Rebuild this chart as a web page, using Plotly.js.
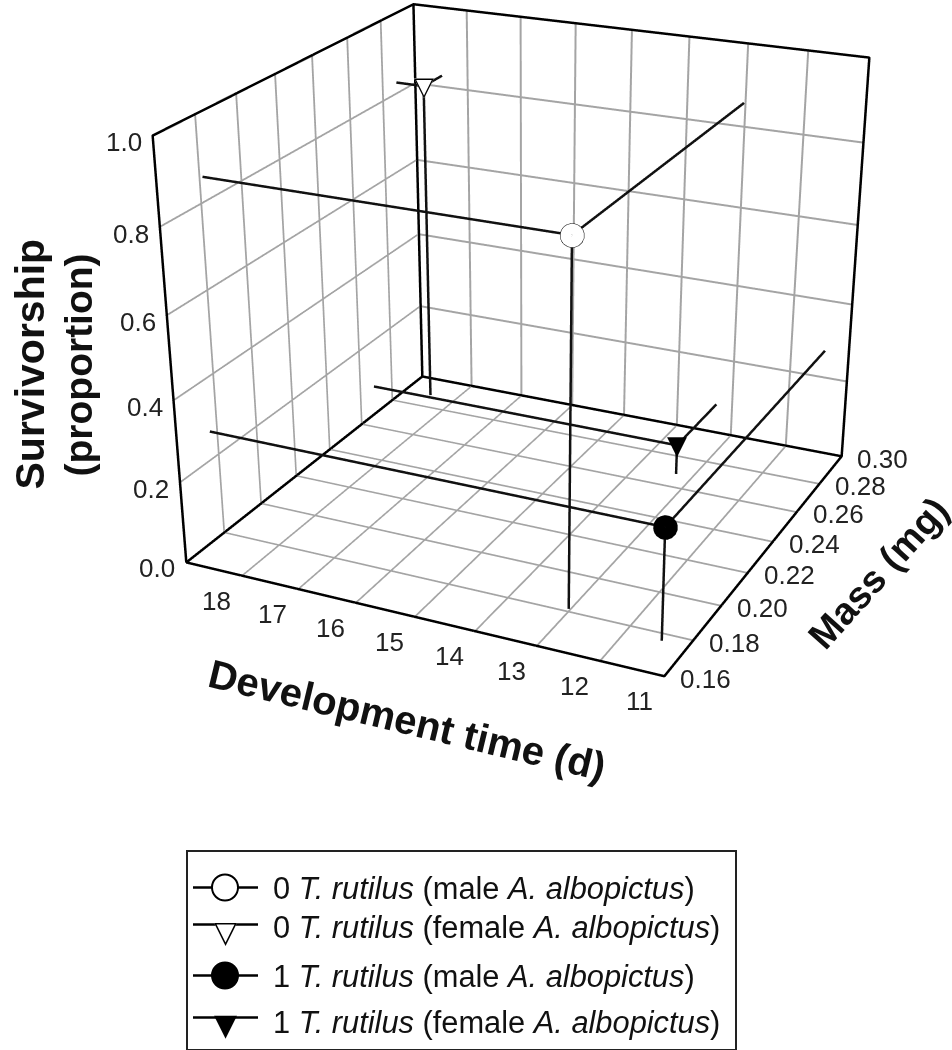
<!DOCTYPE html><html><head><meta charset="utf-8"><script src="https://cdn.plot.ly/plotly-3.0.1.min.js"></script>
<style>html,body{margin:0;background:#fff;overflow:hidden}#wrap{position:absolute;left:0;top:0;width:952px;height:1050px;overflow:hidden}#c{position:absolute;left:0;top:-418.5px;width:952px;height:1887px}</style></head>
<body><div id="wrap"><div id="c"></div></div><script>
// ---- data ----
var seriesNames=['0 <i>T. rutilus</i> (male <i>A. albopictus</i>)','0 <i>T. rutilus</i> (female <i>A. albopictus</i>)','1 <i>T. rutilus</i> (male <i>A. albopictus</i>)','1 <i>T. rutilus</i> (female <i>A. albopictus</i>)'];
var developmentTime=[13.02,18.48,11.41,13.28];
var massMg=[0.181,0.288,0.176,0.268];
var survivorship=[0.858,0.829,0.271,0.077];
var devTicks=[18,17,16,15,14,13,12,11];
var massTicks=[0.16,0.18,0.20,0.22,0.24,0.26,0.28,0.30];
var survTicks=[0,0.2,0.4,0.6,0.8,1.0];
var devRange=[19,11],massRange=[0.16,0.30],survRange=[0,1];

// ---- styling / layout constants ----
var W=952,H=1887,TOP=418.5,INK='#111',GRID='#a4a4a4',FONT='"Liberation Sans",Arial,sans-serif',TRI='"DejaVu Sans"';
var filled=[false,false,true,true],isTri=[false,true,false,true];
var py=function(p){return 1-(p+TOP)/H};

var traces=[];
var d0=devRange[0],d1=devRange[1],m0=massRange[0],m1=massRange[1],s0=survRange[0],s1=survRange[1];
// drop lines from each point to the two walls and floor
seriesNames.forEach(function(n,i){var d=developmentTime[i],m=massMg[i],s=survivorship[i];
 traces.push({type:'scatter3d',mode:'lines',name:n,showlegend:false,x:[d0,d,d,d,d],y:[m,m,m1,m,m],z:[s,s,s,s,s0],line:{color:INK,width:5}});
});
// frame of the 3-D box
traces.push({type:'scatter3d',mode:'lines',hoverinfo:'skip',showlegend:false,
 x:[d0,d0,d0,d1,d1,d1,d0,d0,d1,d0,d0],y:[m0,m0,m1,m1,m1,m0,m0,m1,m1,m1,m1],z:[s0,s1,s1,s1,s0,s0,s0,s0,s0,s0,s1],line:{color:'#000',width:5}});
// circular markers
[0,2].forEach(function(i){traces.push({type:'scatter3d',mode:'markers',name:seriesNames[i],showlegend:false,x:[developmentTime[i]],y:[massMg[i]],z:[survivorship[i]],
 marker:{size:14,color:filled[i]?'#000':'#fff',line:{color:'#000',width:7},opacity:1}})});

// 3-D scene annotations: tick labels + triangular markers
var sceneAnn=[];
function lab(x,y,z,t,xs,ys){sceneAnn.push({x:x,y:y,z:z,text:t,showarrow:false,xshift:xs,yshift:ys,xanchor:'center',yanchor:'middle',font:{family:FONT,size:26,color:'#222'}})}
devTicks.forEach(function(v){lab(v,m0,s0,String(v),-25,-25)});
massTicks.forEach(function(v){lab(d1,v,s0,v.toFixed(2),41,-3)});
survTicks.forEach(function(v){lab(d0,m0,v,v.toFixed(1),-29,-6)});
[1,3].forEach(function(i){
 var base={x:developmentTime[i],y:massMg[i],z:survivorship[i],showarrow:false,xanchor:'center',yanchor:'middle',yshift:0};
 if(!filled[i]) sceneAnn.push(Object.assign({},base,{text:'▼',font:{family:TRI,size:26,color:'#fff'}}));
 sceneAnn.push(Object.assign({},base,{text:filled[i]?'▼':'▽',font:{family:TRI,size:26,color:'#000'}}));
});

// legend drawn on a small 2-D axis
var rowY=[36,73,124,166],textY=[37,76,125,171];
var legendAnn=[];
seriesNames.forEach(function(n,i){
 traces.push({type:'scatter',xaxis:'x',yaxis:'y',mode:isTri[i]?'lines':'lines+markers',name:n,showlegend:false,hoverinfo:'skip',x:[5,37,70],y:[rowY[i],rowY[i],rowY[i]],
  line:{color:'#000',width:2.5},marker:{size:[0,26,0],opacity:1,color:filled[i]?'#000':'#fff',line:{color:'#000',width:2}}});
 legendAnn.push({xref:'x',yref:'y',x:83,y:textY[i],text:n,showarrow:false,xanchor:'left',yanchor:'middle',font:{family:FONT,size:30.8,color:'#111'}});
 if(isTri[i]){var b={xref:'x',yref:'y',x:37,y:rowY[i]+7,showarrow:false,xanchor:'center',yanchor:'middle'};
  if(!filled[i]) legendAnn.push(Object.assign({},b,{text:'▼',font:{family:TRI,size:30,color:'#fff'}}));
  legendAnn.push(Object.assign({},b,{text:filled[i]?'▼':'▽',font:{family:TRI,size:30,color:'#000'}}));}
});

// axis titles
function title(px,pyy,t,ang,sz){return {xref:'paper',yref:'paper',x:px/W,y:py(pyy),text:'<b>'+t+'</b>',textangle:ang,showarrow:false,xanchor:'center',yanchor:'middle',font:{family:FONT,size:sz,color:'#111'}}}
var titles=[title(407,719,'Development time (d)',13.5,40),title(878,572,'Mass (mg)',-48,38),title(30,364,'Survivorship',-90,41),title(78,365,'(proportion)',-90,39)];

// grid only on interior ticks: the outermost lines are the black frame.
// The axis range is padded by a hair so the frame is not clipped at the scene bounds.
function ax3(r,tv){var lo=Math.min(r[0],r[1]),hi=Math.max(r[0],r[1]),e=(r[1]-r[0])*0.002;return {range:[r[0]-e,r[1]+e],autorange:false,tickvals:tv.filter(function(v){return v>lo&&v<hi}),showticklabels:false,title:{text:''},showgrid:true,gridcolor:GRID,gridwidth:4,ticks:'',showline:false,zeroline:false,showspikes:false,showbackground:false}}
var layout={width:W,height:H,margin:{l:0,r:0,t:0,b:0},paper_bgcolor:'#fff',plot_bgcolor:'rgba(0,0,0,0)',showlegend:false,
 scene:{domain:{x:[0,1],y:[0,1]},aspectmode:'manual',aspectratio:{x:1.1654,y:1.1569,z:1},
  xaxis:ax3(devRange,devTicks),yaxis:ax3(massRange,massTicks),zaxis:ax3(survRange,survTicks),
  camera:{eye:{x:2.0369,y:-4.3320,z:1.9288},center:{x:-0.1468,y:0.0193,z:-0.5880},up:{x:0.2274,y:-0.4347,z:1},projection:{type:'perspective'}},
  annotations:sceneAnn},
 xaxis:{domain:[188/W,735/W],range:[0,547],showgrid:false,zeroline:false,showticklabels:false,ticks:'',showline:true,mirror:true,linecolor:'#222',linewidth:2,fixedrange:true},
 yaxis:{domain:[py(1048),py(851)],range:[197,0],showgrid:false,zeroline:false,showticklabels:false,ticks:'',showline:true,mirror:true,linecolor:'#222',linewidth:2,fixedrange:true},
 annotations:legendAnn.concat(titles)};
Plotly.newPlot('c',traces,layout,{displayModeBar:false});
</script></body></html>
